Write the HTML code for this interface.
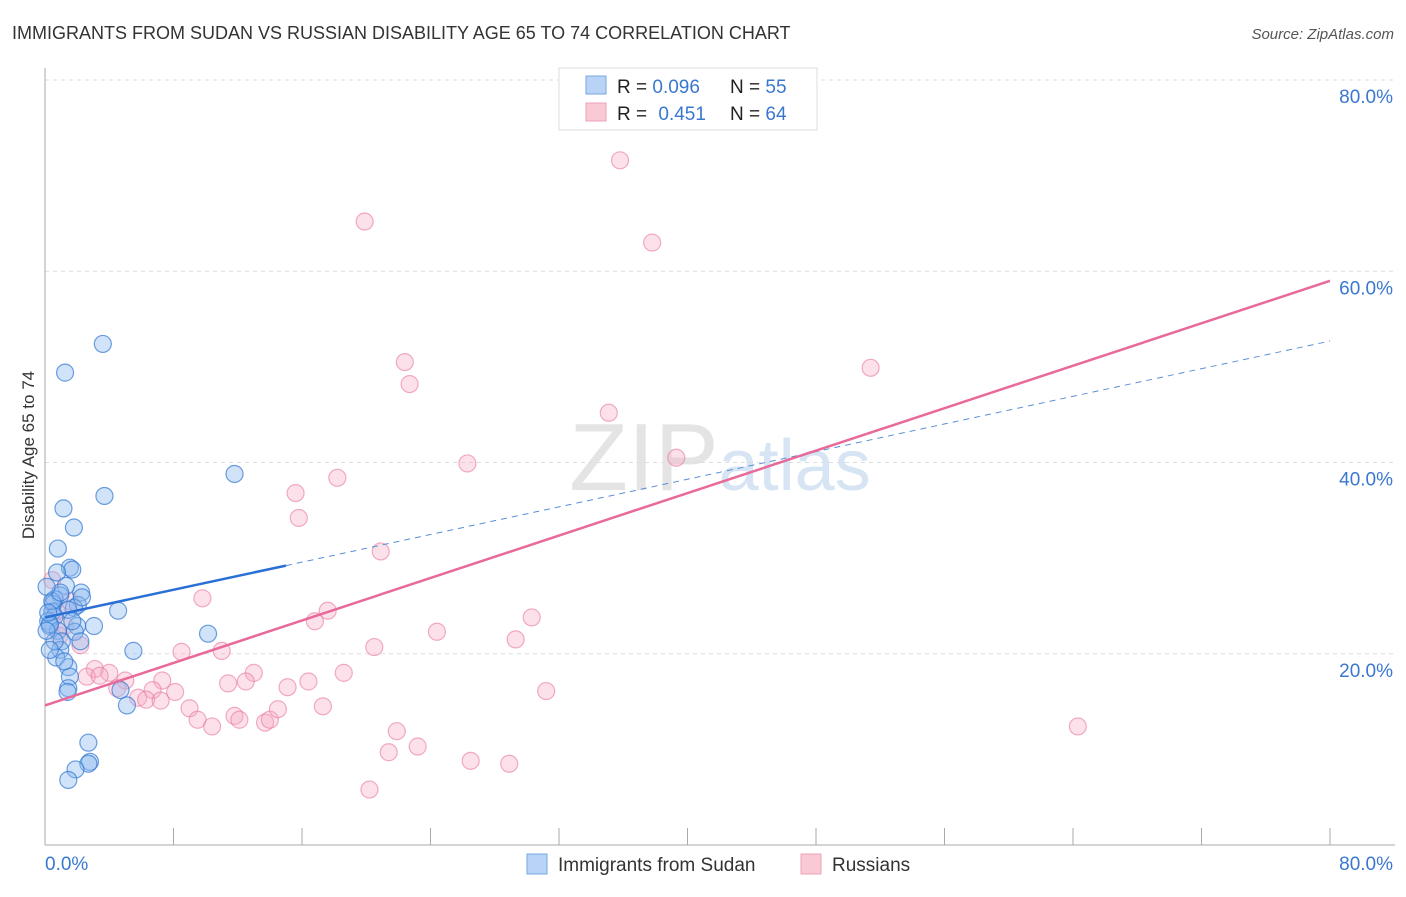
<!DOCTYPE html>
<html><head><meta charset="utf-8"><style>
body{margin:0;background:#fff;font-family:"Liberation Sans",sans-serif;}
svg text{font-family:"Liberation Sans",sans-serif;}
</style></head><body>
<svg id="chart" width="1406" height="892" xmlns="http://www.w3.org/2000/svg">
<text x="12" y="39" font-size="18" fill="#333">IMMIGRANTS FROM SUDAN VS RUSSIAN DISABILITY AGE 65 TO 74 CORRELATION CHART</text>
<text x="1394" y="39" font-size="15" fill="#555" text-anchor="end" font-style="italic">Source: ZipAtlas.com</text>
<text x="720" y="490" font-size="96" fill="#e4e4e4" text-anchor="middle" font-family="Liberation Serif">ZIP<tspan fill="#d6e4f4" font-family="Liberation Sans" font-size="72">atlas</tspan></text>
<g id="grid"></g>
<g id="axes"></g>
<g id="pts"></g>
<g id="lines"></g>
<text x="34" y="455" font-size="17" fill="#333" text-anchor="middle" transform="rotate(-90 34 455)">Disability Age 65 to 74</text>
<g>
<rect x="559" y="68" width="258" height="62" fill="#fff" stroke="#ddd"/>
<rect x="586" y="76" width="20" height="18" fill="#b8d3f5" stroke="#7aa7e0"/>
<rect x="586" y="103" width="20" height="18" fill="#f9c9d6" stroke="#eba3b8"/>
<text x="617" y="93" font-size="19" fill="#222">R = <tspan fill="#3a78d0">0.096</tspan></text>
<text x="730" y="93" font-size="19" fill="#222">N = <tspan fill="#3a78d0">55</tspan></text>
<text x="617" y="120" font-size="19" fill="#222">R = <tspan fill="#3a78d0" dx="6">0.451</tspan></text>
<text x="730" y="120" font-size="19" fill="#222">N = <tspan fill="#3a78d0">64</tspan></text>
</g>
<g>
<rect x="527" y="854" width="20" height="20" fill="#b8d3f5" stroke="#7aa7e0"/>
<text x="558" y="871" font-size="19" fill="#333">Immigrants from Sudan</text>
<rect x="801" y="854" width="20" height="20" fill="#f9c9d6" stroke="#eba3b8"/>
<text x="832" y="871" font-size="19" fill="#333">Russians</text>
</g>
</svg>
<script>
const yTicks=[20,40,60,80];
const yTickLabels=["20.0%","40.0%","60.0%","80.0%"];
const xTickLabels=["0.0%","80.0%"];
const sudanX=[3.6,1.25,11.8,3.7,1.15,1.8,0.8,1.55,1.7,0.75,1.3,2.25,0.95,0.6,0.5,2.05,1.8,4.55,0.45,1.45,0.6,0.2,0.3,2.0,3.05,0.8,1.85,1.05,10.15,2.2,5.5,0.95,0.7,1.45,1.55,1.45,1.4,4.7,5.1,2.7,2.8,2.7,1.9,1.45,0.3,0.6,0.45,0.2,0.1,0.95,1.2,1.7,2.3,0.3,0.1];
const sudanY=[52.4,49.4,38.8,36.5,35.2,33.2,31.0,29.0,28.8,28.5,27.1,26.4,26.1,25.7,25.2,25.1,24.8,24.5,24.4,24.6,23.9,23.4,22.9,22.9,22.9,22.4,22.3,21.3,22.1,21.3,20.3,20.4,19.6,18.6,17.6,16.4,16.0,16.2,14.6,10.7,8.7,8.5,7.9,6.8,23.1,21.3,25.5,24.3,22.4,26.4,19.2,23.4,25.9,20.4,27.0];
const rusX=[41.6,35.8,19.9,37.8,22.4,22.7,51.4,35.1,26.3,39.3,18.2,15.6,15.8,20.9,0.45,9.8,30.3,17.6,16.8,24.4,29.3,20.5,0.9,2.2,8.5,11.0,3.1,4.0,2.6,3.4,13.0,18.6,7.3,5.0,11.4,12.5,4.5,6.7,8.1,16.4,15.1,31.2,5.8,6.3,7.2,9.0,9.5,10.4,11.8,12.1,13.7,14.0,14.5,17.3,21.9,21.4,23.2,26.5,28.9,20.2,64.3,0.7,1.55,1.25];
const rusY=[79.9,71.6,65.2,63.0,50.5,48.2,49.9,45.2,39.9,40.5,38.4,36.8,34.2,30.7,27.7,25.8,23.8,24.5,23.4,22.3,21.5,20.7,21.9,20.9,20.2,20.3,18.4,18.0,17.6,17.7,18.0,18.0,17.2,17.2,16.9,17.1,16.4,16.2,16.0,17.1,16.5,16.1,15.4,15.2,15.1,14.3,13.1,12.4,13.5,13.1,12.8,13.1,14.2,14.5,11.9,9.7,10.3,8.8,8.5,5.8,12.4,24.5,25.5,22.9];
const sudanTrend=[23.8,52.7];
const rusTrend=[14.6,59.0];
const X0=45,X1=1330,Y0=845,YTOP=80;
const sx=v=>X0+(X1-X0)*v/80;
const sy=v=>Y0-(Y0-YTOP)*v/80;
const NS="http://www.w3.org/2000/svg";
function mk(t,a,p){const e=document.createElementNS(NS,t);for(const k in a)e.setAttribute(k,a[k]);p.appendChild(e);return e;}
const grid=document.getElementById('grid'),axes=document.getElementById('axes'),pts=document.getElementById('pts'),lines=document.getElementById('lines');
yTicks.forEach((v,i)=>{
 const g=mk('line',{x1:X0,x2:1395,y1:sy(v),y2:sy(v),stroke:'#ddd','stroke-dasharray':'4,4'},grid);
 
 
 const t=mk('text',{x:1393,y:sy(v)+23,'font-size':19,fill:'#3a78d0','text-anchor':'end'},axes);
 t.textContent=yTickLabels[i];
 
 
});
const ax=mk('line',{x1:X0,x2:X0,y1:68,y2:Y0,stroke:'#aaa'},axes);


const bx=mk('line',{x1:X0,x2:1395,y1:Y0,y2:Y0,stroke:'#aaa'},axes);


for(let i=1;i<=10;i++){
 const tk=mk('line',{x1:sx(i*8),x2:sx(i*8),y1:828,y2:Y0,stroke:'#aaa'},axes);
 
 
}
const xl0=mk('text',{x:45,y:870,'font-size':19,fill:'#3a78d0'},axes);xl0.textContent=xTickLabels[0];


const xl1=mk('text',{x:1393,y:870,'font-size':19,fill:'#3a78d0','text-anchor':'end'},axes);xl1.textContent=xTickLabels[1];


rusX.forEach((x,i)=>{
 const c=mk('circle',{cx:sx(x),cy:sy(rusY[i]),r:8.5,fill:'rgba(246,170,195,0.35)',stroke:'rgba(232,120,160,0.6)','stroke-width':1.2},pts);
 
 
});
sudanX.forEach((x,i)=>{
 const c=mk('circle',{cx:sx(x),cy:sy(sudanY[i]),r:8.5,fill:'rgba(140,185,240,0.4)',stroke:'rgba(50,120,210,0.7)','stroke-width':1.2},pts);
 
 
});
const bAt=x=>sudanTrend[0]+(sudanTrend[1]-sudanTrend[0])*x/80;
const l1=mk('line',{x1:sx(0),y1:sy(bAt(0)),x2:sx(15),y2:sy(bAt(15)),stroke:'#2a6fd6','stroke-width':2.5},lines);


const l2=mk('line',{x1:sx(15),y1:sy(bAt(15)),x2:sx(80),y2:sy(bAt(80)),stroke:'#5a8fd8','stroke-width':1,'stroke-dasharray':'6,5'},lines);


const l3=mk('line',{x1:sx(0),y1:sy(rusTrend[0]),x2:sx(80),y2:sy(rusTrend[1]),stroke:'#e8699a','stroke-width':2.5},lines);


</script>
</body></html>
